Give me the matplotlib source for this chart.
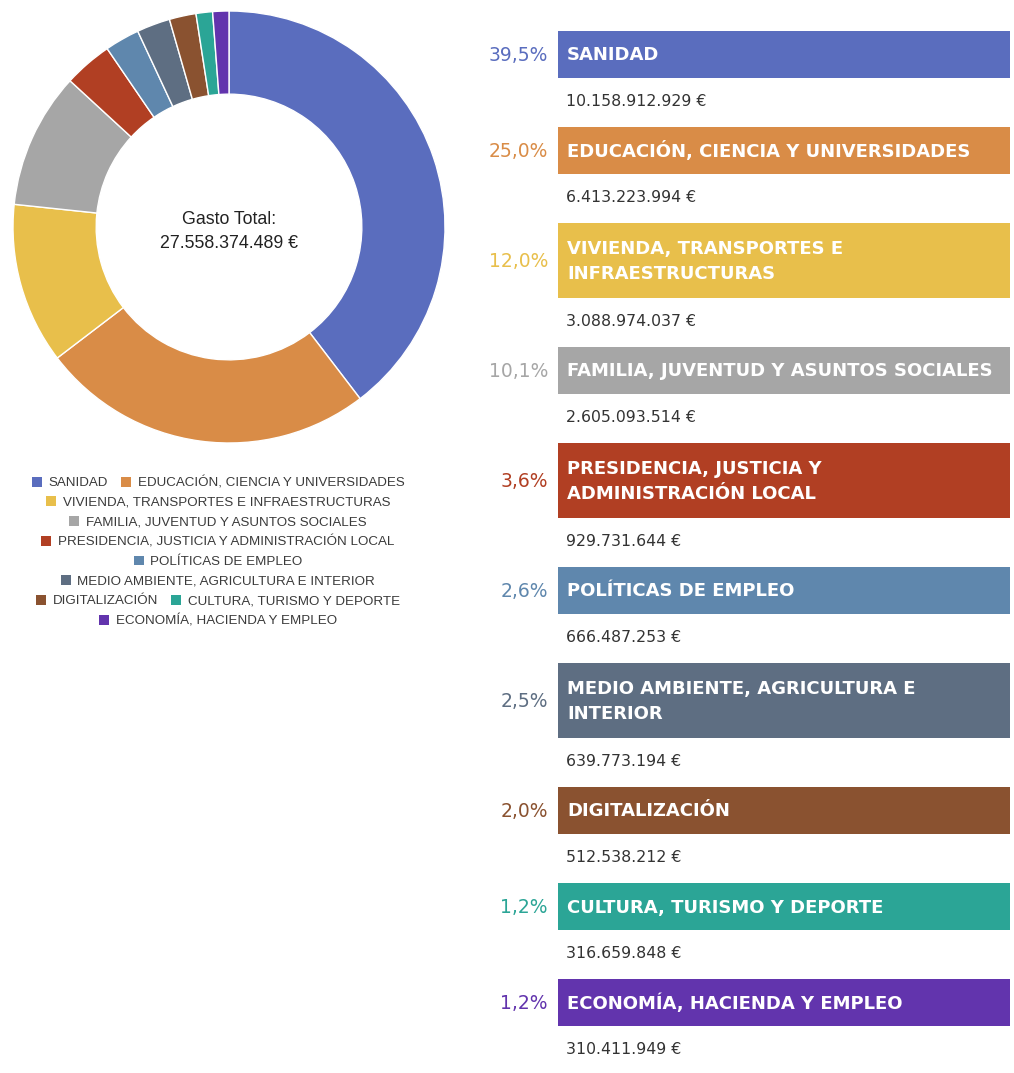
import matplotlib
matplotlib.use("Agg")
import matplotlib.pyplot as plt
from matplotlib.patches import Patch

# ===================== datos =====================
areas = ["SANIDAD", "EDUCACIÓN, CIENCIA Y UNIVERSIDADES", "VIVIENDA, TRANSPORTES E\nINFRAESTRUCTURAS",
         "FAMILIA, JUVENTUD Y ASUNTOS SOCIALES", "PRESIDENCIA, JUSTICIA Y\nADMINISTRACIÓN LOCAL",
         "POLÍTICAS DE EMPLEO", "MEDIO AMBIENTE, AGRICULTURA E\nINTERIOR", "DIGITALIZACIÓN",
         "CULTURA, TURISMO Y DEPORTE", "ECONOMÍA, HACIENDA Y EMPLEO"]
gasto = [10158912929, 6413223994, 3088974037, 2605093514, 929731644,
         666487253, 639773194, 512538212, 316659848, 310411949]
porcentajes = ["39,5%", "25,0%", "12,0%", "10,1%", "3,6%", "2,6%", "2,5%", "2,0%", "1,2%", "1,2%"]
colores = ["#5A6DBE", "#D98C47", "#E8BF4B", "#A6A6A6", "#B13F23",
           "#5F87AD", "#5E6E82", "#8A5230", "#2BA596", "#6234AD"]
gasto_total = "27.558.374.489 €"

# filas de la leyenda (indices de areas)
filas_leyenda = [[0, 1], [2], [3], [4], [5], [6], [7, 8], [9]]


def euros(v):
    return f"{v:,}".replace(",", ".") + " €"


W, H = 1014, 1073
fig = plt.figure(figsize=(W / 100, H / 100), dpi=100)

# ===================== donut =====================
cx, cy, r = 229, 227, 216
ax_pie = fig.add_axes([(cx - r) / W, 1 - (cy + r) / H, 2 * r / W, 2 * r / H])
ax_pie.pie(gasto, colors=colores, startangle=90, counterclock=False,
           wedgeprops=dict(width=0.385, edgecolor="white", linewidth=1))
ax_pie.set_xlim(-1, 1)
ax_pie.set_ylim(-1, 1)
ax_pie.text(0, -0.02, "Gasto Total:\n" + gasto_total, ha="center", va="center", fontsize=12.8,
            family="Liberation Sans", color="#222222", linespacing=1.55)

# leyenda centrada, una fila por legend
for k, fila in enumerate(filas_leyenda):
    handles = [Patch(facecolor=colores[i], label=areas[i].replace("\n", " ")) for i in fila]
    y = 1 - (483 + k * 19.7) / H
    leg = fig.legend(handles=handles, loc="center", bbox_to_anchor=(218 / W, y), ncol=len(fila),
                     frameon=False, handlelength=0.75, handleheight=0.75,
                     handletextpad=0.5, columnspacing=1.0, borderpad=0, borderaxespad=0,
                     prop=dict(family="Liberation Sans", size=9.6))
    for t in leg.get_texts():
        t.set_color("#3a3a3a")

# ===================== panel derecho =====================
ax = fig.add_axes([0, 0, 1, 1])
ax.set_xlim(0, W)
ax.set_ylim(H, 0)
ax.axis("off")

x0, ancho = 558, 452
top = 31
for area, v, p, c in zip(areas, gasto, porcentajes, colores):
    h = 75 if "\n" in area else 47
    yc = top + h / 2
    ax.barh(yc, ancho, left=x0, height=h, color=c)
    ax.text(x0 + 9, yc + 1, area, ha="left", va="center", color="white", fontsize=13,
            fontweight="bold", family="DejaVu Sans", linespacing=1.45)
    ax.text(x0 - 10, yc + 1, p, ha="right", va="center", color=c, fontsize=13.5, family="DejaVu Sans")
    ax.text(x0 + 8, top + h + 24, euros(v), ha="left", va="center", color="#333333",
            fontsize=11.3, family="DejaVu Sans")
    top += h + 49

fig.savefig("out.png", dpi=100)
